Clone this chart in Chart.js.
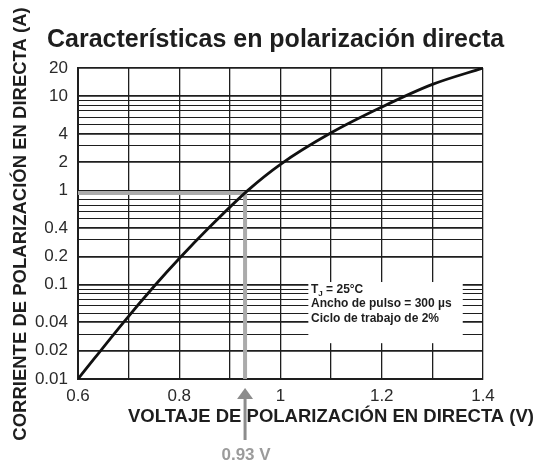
<!DOCTYPE html>
<html>
<head>
<meta charset="utf-8">
<script src="https://cdn.jsdelivr.net/npm/chart.js@4"></script>
<style>
  body { margin: 0; background: #fff; }
  canvas { display: block; }
</style>
</head>
<body>
<canvas id="chart" width="536" height="463"></canvas>
<script>
// ---- Data ----
const volts = [0.6, 0.69, 0.753, 0.8, 0.86, 0.935, 1.0, 1.1, 1.2, 1.3, 1.4];
const amps = [0.01, 0.04, 0.1, 0.19, 0.41, 1, 1.9, 4.1, 7.7, 13.4, 20];

// grey reference line at 0.93 V
const refX = [0.6, 0.93, 0.93];
const refY = [0.94, 0.94, 0.01];

// grid lines and labelled ticks
const xGrid = [0.6, 0.7, 0.8, 0.9, 1, 1.1, 1.2, 1.3, 1.4];
const xLabels = [0.6, 0.8, 1, 1.2, 1.4];
const yGrid = [0.01, 0.02, 0.03, 0.04, 0.05, 0.06, 0.07, 0.08, 0.09, 0.1,
               0.2, 0.3, 0.4, 0.5, 0.6, 0.7, 0.8, 0.9, 1,
               2, 3, 4, 5, 6, 7, 8, 9, 10, 20];
const yLabels = [0.01, 0.02, 0.04, 0.1, 0.2, 0.4, 1, 2, 4, 10, 20];

const FONT = '"Liberation Sans", Arial, Helvetica, sans-serif';

// ---- Extra drawing: titles, note box, arrow ----
const decorPlugin = {
    id: 'decor',
    beforeDatasetsDraw(chart) {
        const ctx = chart.ctx;
        const x = chart.scales.x, y = chart.scales.y;
        // white box behind the test conditions
        const left = x.getPixelForValue(1.055), right = x.getPixelForValue(1.36);
        const top = y.getPixelForValue(0.107), bottom = y.getPixelForValue(0.024);
        ctx.save();
        ctx.fillStyle = '#fff';
        ctx.fillRect(left, top, right - left, bottom - top);
        ctx.restore();
    },
    afterDraw(chart) {
        const ctx = chart.ctx;
        const x = chart.scales.x;
        ctx.save();
        ctx.fillStyle = '#1e1e1e';

        // main title
        ctx.font = 'bold 25px ' + FONT;
        ctx.textAlign = 'left';
        ctx.textBaseline = 'alphabetic';
        ctx.fillText('Características en polarización directa', 47, 47);

        // axis titles
        ctx.font = 'bold 18.5px ' + FONT;
        ctx.textAlign = 'center';
        ctx.textBaseline = 'middle';
        ctx.fillText('VOLTAJE DE POLARIZACIÓN EN DIRECTA (V)', 331, 417);
        ctx.save();
        ctx.translate(21, 224);
        ctx.rotate(-Math.PI / 2);
        ctx.fillText('CORRIENTE DE POLARIZACIÓN EN DIRECTA (A)', 0, 0);
        ctx.restore();

        // test conditions
        const tx = 311;
        ctx.textAlign = 'left';
        ctx.font = 'bold 12px ' + FONT;
        ctx.fillText('T', tx, 290);
        const tw = ctx.measureText('T').width;
        ctx.font = 'bold 8px ' + FONT;
        ctx.fillText('J', tx + tw, 294);
        const jw = ctx.measureText('J').width;
        ctx.font = 'bold 12px ' + FONT;
        ctx.fillText(' = 25°C', tx + tw + jw, 290);
        ctx.fillText('Ancho de pulso = 300 µs', tx, 304);
        ctx.fillText('Ciclo de trabajo de 2%', tx, 319);

        // arrow under the axis
        const ax = x.getPixelForValue(refX[1]);
        ctx.fillStyle = '#8c8c8c';
        ctx.beginPath();
        ctx.moveTo(ax, 388);
        ctx.lineTo(ax + 8, 399);
        ctx.lineTo(ax - 8, 399);
        ctx.closePath();
        ctx.fill();
        ctx.fillRect(ax - 1.5, 398, 3, 42);

        ctx.fillStyle = '#9b9b9b';
        ctx.font = 'bold 17px ' + FONT;
        ctx.textAlign = 'center';
        ctx.fillText('0.93 V', ax + 1, 455);
        ctx.restore();
    }
};

const ctx = document.getElementById('chart').getContext('2d');
new Chart(ctx, {
    type: 'line',
    data: {
        datasets: [
            {
                label: 'IF',
                data: volts.map(function (v, i) { return { x: v, y: amps[i] }; }),
                borderColor: '#111',
                borderWidth: 2.8,
                pointRadius: 0,
                cubicInterpolationMode: 'monotone',
                order: 0
            },
            {
                label: 'ref',
                data: refX.map(function (v, i) { return { x: v, y: refY[i] }; }),
                borderColor: '#ababab',
                borderWidth: 4,
                pointRadius: 0,
                tension: 0,
                order: 1
            }
        ]
    },
    plugins: [decorPlugin],
    options: {
        responsive: false,
        animation: false,
        devicePixelRatio: 1,
        layout: { padding: { top: 68, right: 53, left: 0, bottom: 0 } },
        scales: {
            x: {
                type: 'linear',
                min: 0.6,
                max: 1.4,
                afterBuildTicks: function (scale) {
                    scale.ticks = xGrid.map(function (v) { return { value: v }; });
                },
                afterFit: function (scale) { scale.height = 84; },
                ticks: {
                    autoSkip: false,
                    maxRotation: 0,
                    padding: 7,
                    color: '#2a2a2a',
                    font: { family: FONT, size: 17 },
                    callback: function (value) {
                        return xLabels.includes(value) ? String(value) : '';
                    }
                },
                grid: { color: '#1e1e1e', lineWidth: 1.3, drawTicks: false },
                border: { color: '#1e1e1e', width: 2 }
            },
            y: {
                type: 'logarithmic',
                min: 0.01,
                max: 20,
                afterBuildTicks: function (scale) {
                    scale.ticks = yGrid.map(function (v) { return { value: v }; });
                },
                afterFit: function (scale) { scale.width = 78; },
                ticks: {
                    autoSkip: false,
                    padding: 10,
                    color: '#2a2a2a',
                    font: { family: FONT, size: 17 },
                    callback: function (value) {
                        return yLabels.includes(value) ? String(value) : '';
                    }
                },
                grid: {
                    color: '#1e1e1e',
                    drawTicks: false,
                    lineWidth: function (c) {
                        return c.tick && yLabels.includes(c.tick.value) ? 1.8 : 1;
                    }
                },
                border: { color: '#1e1e1e', width: 2 }
            }
        },
        plugins: {
            legend: { display: false },
            tooltip: { enabled: false },
            title: { display: false }
        }
    }
});
</script>
</body>
</html>
